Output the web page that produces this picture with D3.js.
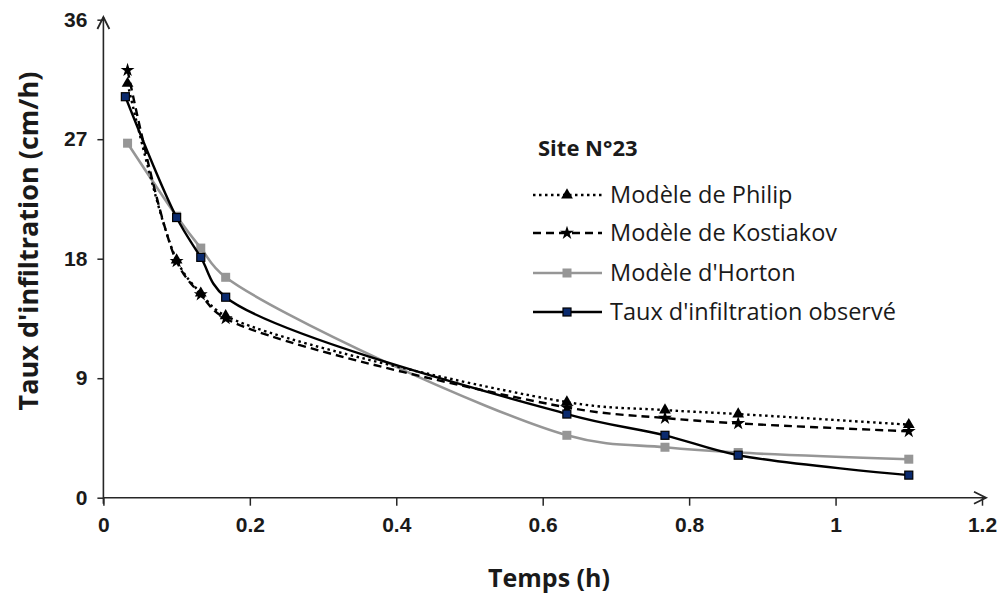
<!DOCTYPE html>
<html>
<head>
<meta charset="utf-8">
<script src="https://cdn.jsdelivr.net/npm/d3@7"></script>
<style>
  html, body { margin: 0; padding: 0; background: #fff; }
  svg { display: block; }
</style>
</head>
<body>
<svg id="chart" width="1008" height="596"></svg>
<script>
// Infiltration rate versus time, site N°23
const timeObserved = [0.03, 0.1, 0.133, 0.167, 0.633, 0.767, 0.867, 1.1];
const timeModel    = [0.033, 0.1, 0.133, 0.167, 0.633, 0.767, 0.867, 1.1];
const observed  = [30.2, 21.1, 18.1, 15.1, 6.3, 4.7, 3.2, 1.7];
const philip    = [31.2, 17.9, 15.4, 13.7, 7.2, 6.6, 6.3, 5.5];
const kostiakov = [32.2, 17.8, 15.3, 13.5, 6.8, 6.0, 5.6, 5.0];
const horton    = [26.7, 21.2, 18.8, 16.6, 4.7, 3.8, 3.4, 2.9];

const xTicks = [0, 0.2, 0.4, 0.6, 0.8, 1, 1.2];
const yTicks = [0, 9, 18, 27, 36];

const seriesNames = ["Modèle de Philip", "Modèle de Kostiakov", "Modèle d'Horton", "Taux d'infiltration observé"];
const legendTitle = "Site N°23";
const xTitle = "Temps (h)";
const yTitle = "Taux d'infiltration (cm/h)";

const svg = d3.select("#chart");
const x = d3.scaleLinear().domain([0, 1.2]).range([103.4, 982]);
const y = d3.scaleLinear().domain([0, 36]).range([497.7, 19.7]);

const axisColor = "#262626";
const tickFont = "'Liberation Sans', Arial, sans-serif";
const textFont = "'Open Sans', 'Noto Sans', sans-serif";

// Axes with arrow heads
const gx = svg.append("g").attr("transform", `translate(0,${y(0)})`)
  .call(d3.axisBottom(x).tickValues(xTicks).tickSize(8).tickPadding(11).tickFormat(d3.format("")));
const gy = svg.append("g").attr("transform", `translate(${x(0)},0)`)
  .call(d3.axisLeft(y).tickValues(yTicks).tickSize(6).tickPadding(10));
[gx, gy].forEach(g => {
  g.select(".domain").remove();
  g.selectAll("line").attr("stroke", axisColor).attr("stroke-width", 1.5);
  g.selectAll("text").attr("fill", "#1a1a1a").attr("font-family", tickFont)
    .attr("font-weight", "bold").attr("font-size", 21);
});
gx.selectAll("text").attr("dy", "0.71em");

svg.append("line").attr("x1", x(0)).attr("x2", 986).attr("y1", y(0)).attr("y2", y(0))
  .attr("stroke", axisColor).attr("stroke-width", 1.6);
svg.append("line").attr("x1", x(0)).attr("x2", x(0)).attr("y1", y(0) + 6).attr("y2", 17)
  .attr("stroke", axisColor).attr("stroke-width", 1.6);
svg.append("path").attr("d", `M${x(0) - 6},${29} L${x(0)},${17} L${x(0) + 6},${29}`)
  .attr("fill", "none").attr("stroke", axisColor).attr("stroke-width", 1.8);
svg.append("path").attr("d", `M${974},${y(0) - 6} L${986},${y(0)} L${974},${y(0) + 6}`)
  .attr("fill", "none").attr("stroke", axisColor).attr("stroke-width", 1.8);

// Axis titles
svg.append("text").attr("x", 549).attr("y", 587).attr("text-anchor", "middle")
  .attr("font-family", textFont).attr("font-weight", "bold").attr("font-size", 25)
  .attr("fill", "#1a1a1a").text(xTitle);
svg.append("text").attr("transform", "translate(38,241) rotate(-90)").attr("text-anchor", "middle")
  .attr("font-family", textFont).attr("font-weight", "bold").attr("font-size", 27)
  .attr("fill", "#1a1a1a").text(yTitle);

// Series definitions
const series = [
  { name: seriesNames[0], t: timeModel, v: philip, color: "#000", width: 2.4, dash: "2.5,3.5", marker: "triangle" },
  { name: seriesNames[1], t: timeModel, v: kostiakov, color: "#000", width: 2.4, dash: "8,5", marker: "star" },
  { name: seriesNames[2], t: timeModel, v: horton, color: "#969696", width: 2.6, dash: null, marker: "graysquare" },
  { name: seriesNames[3], t: timeObserved, v: observed, color: "#000", width: 2.4, dash: null, marker: "navysquare" }
];

const line = d3.line().x(d => x(d[0])).y(d => y(d[1])).curve(d3.curveCatmullRom.alpha(0.5));

function drawMarker(g, kind, cx, cy) {
  if (kind === "triangle") {
    g.append("path").attr("d", d3.symbol(d3.symbolTriangle, 60)())
      .attr("transform", `translate(${cx},${cy})`).attr("fill", "#000");
  } else if (kind === "star") {
    g.append("path").attr("d", d3.symbol(d3.symbolStar, 60)())
      .attr("transform", `translate(${cx},${cy})`).attr("fill", "#000");
  } else if (kind === "graysquare") {
    g.append("rect").attr("x", cx - 4.5).attr("y", cy - 4.5).attr("width", 9).attr("height", 9)
      .attr("fill", "#969696");
  } else {
    g.append("rect").attr("x", cx - 4).attr("y", cy - 4).attr("width", 8).attr("height", 8)
      .attr("fill", "#0a2a6e").attr("stroke", "#000").attr("stroke-width", 1.2);
  }
}

const plot = svg.append("g");
// Draw order: Horton, Philip, Kostiakov, observed on top
[series[2], series[0], series[1], series[3]].forEach(s => {
  const pts = s.t.map((t, i) => [t, s.v[i]]);
  plot.append("path").datum(pts).attr("d", line).attr("fill", "none")
    .attr("stroke", s.color).attr("stroke-width", s.width)
    .attr("stroke-dasharray", s.dash).attr("stroke-linejoin", "round");
  const mg = plot.append("g");
  pts.forEach(p => drawMarker(mg, s.marker, x(p[0]), y(p[1])));
});

// Legend
const lg = svg.append("g");
lg.append("text").attr("x", 538).attr("y", 156).attr("font-family", textFont)
  .attr("font-weight", "bold").attr("font-size", 22).attr("fill", "#1a1a1a").text(legendTitle);
const rowY = [195, 233, 273, 312];
series.forEach((s, i) => {
  const yy = rowY[i];
  lg.append("line").attr("x1", 533).attr("x2", 602).attr("y1", yy).attr("y2", yy)
    .attr("stroke", s.color).attr("stroke-width", s.width).attr("stroke-dasharray", s.dash);
  drawMarker(lg, s.marker, 567, yy);
  lg.append("text").attr("x", 610).attr("y", yy).attr("dy", "0.35em")
    .attr("font-family", textFont).attr("font-size", 23.5).attr("fill", "#1a1a1a").text(s.name);
});
</script>
</body>
</html>
